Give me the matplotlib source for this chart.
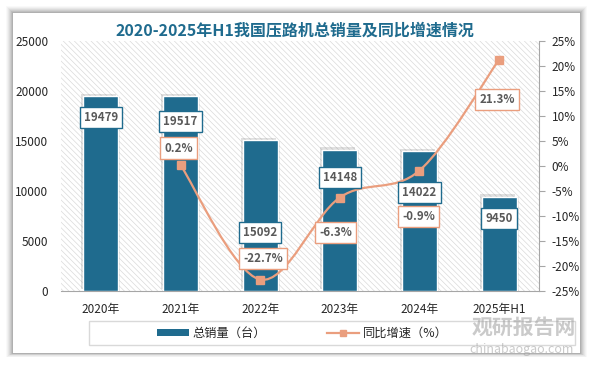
import matplotlib
matplotlib.use('Agg')
import matplotlib.pyplot as plt
import matplotlib.patheffects as pe
from matplotlib.path import Path
from matplotlib.patches import PathPatch, Rectangle
from matplotlib.lines import Line2D
from matplotlib.patches import Patch
import numpy as np

plt.rcParams['font.family'] = ['Noto Sans CJK SC', 'DejaVu Sans']
plt.rcParams['hatch.linewidth'] = 0.5
plt.rcParams['hatch.color'] = '#DADADA'

# data
years = ['2020年', '2021年', '2022年', '2023年', '2024年', '2025年H1']
sales = [19479, 19517, 15092, 14148, 14022, 9450]
growth = [None, 0.2, -22.7, -6.3, -0.9, 21.3]
growth_txt = ['', '0.2%', '-22.7%', '-6.3%', '-0.9%', '21.3%']

# label offsets (pixels) from the bar top / marker
bar_lab_off = [-21, -26, -92, -28, -42, -22]
pct_lab_off = [(0, 0), (-2, 17), (3, 21), (-4, -35), (-1, -46), (-2, -40)]

BLUE = '#1F6B8E'
SALMON = '#EA9E7E'
GREY_TXT = '#595959'

fig = plt.figure(figsize=(5.92, 3.66), dpi=100)
fig.patch.set_facecolor('white')

# card with soft shadow
W, H = 592, 366
for k, a in zip(range(7, 0, -1), [0.025, 0.03, 0.04, 0.05, 0.06, 0.07, 0.08]):
    fig.patches.append(Rectangle(((13 - k) / W, (13 - k * 0.6) / H),
                                 (567 + 2 * k) / W, (340 + k * 1.6) / H,
                                 transform=fig.transFigure, facecolor='black',
                                 edgecolor='none', alpha=a, zorder=-3))
fig.patches.append(Rectangle((13 / W, 13 / H), 567 / W, 340 / H,
                             transform=fig.transFigure, facecolor='white',
                             edgecolor='none', zorder=-2))

ax = fig.add_axes([61 / W, 1 - 291 / H, 478 / W, 250 / H])
ax2 = ax.twinx()

ax.patch.set_facecolor('white')
ax.patch.set_hatch('\\' * 6)
ax.patch.set_edgecolor('#DADADA')
ax.patch.set_linewidth(0)

x = np.arange(len(years))
bars = ax.bar(x, sales, width=0.44, color=BLUE, edgecolor='white', linewidth=1,
              zorder=3, label='总销量（台）')
for b in bars:
    b.set_path_effects([pe.SimplePatchShadow(offset=(-1.5, 1.5), shadow_rgbFace='#666666', alpha=0.2),
                        pe.SimplePatchShadow(offset=(1.5, -0.5), shadow_rgbFace='#666666', alpha=0.15),
                        pe.Normal()])

ax.set_xlim(-0.5, len(years) - 0.5)
ax.set_ylim(0, 25000)
ax.set_yticks(np.arange(0, 25001, 5000))
ax.set_xticks(x, years)
ax.tick_params(axis='x', length=0, pad=9, labelsize=8.5, colors='#262626')
ax.tick_params(axis='y', length=0, pad=9, labelsize=8.5, colors='#262626')
for s in ['left', 'top', 'right']:
    ax.spines[s].set_visible(False)
ax.spines['bottom'].set_color('#A6A6A6')

# growth line, smoothed as a cubic bezier through the points
gx = [i for i, g in enumerate(growth) if g is not None]
gy = [g for g in growth if g is not None]
pts = np.column_stack([gx, gy]).astype(float)
n = len(pts)
verts = [pts[0]]
codes = [Path.MOVETO]
for i in range(n - 1):
    p0 = pts[i - 1] if i > 0 else pts[i]
    p1 = pts[i]
    p2 = pts[i + 1]
    p3 = pts[i + 2] if i + 2 < n else pts[i + 1]
    verts += [p1 + (p2 - p0) / 6, p2 - (p3 - p1) / 6, p2]
    codes += [Path.CURVE4] * 3
ax2.add_patch(PathPatch(Path(verts, codes), facecolor='none', edgecolor=SALMON,
                        linewidth=1.6, zorder=4))
ax2.plot(gx, gy, linestyle='none', marker='s', markersize=6, color=SALMON, zorder=5)

ax2.set_ylim(-25, 25)
ax2.set_yticks(np.arange(-25, 26, 5), [f'{v}%' for v in range(-25, 26, 5)])
ax2.tick_params(axis='y', direction='out', length=4, width=0.8, color='#A6A6A6',
                pad=5, labelsize=8.5, labelcolor='#262626')
for s in ['left', 'top', 'bottom']:
    ax2.spines[s].set_visible(False)
ax2.spines['right'].set_color('#A6A6A6')

# data labels
for i, v in enumerate(sales):
    ax2.annotate(str(v), xy=(i, v), xycoords=ax.transData,
                 xytext=(0, bar_lab_off[i]), textcoords='offset pixels',
                 ha='center', va='center', fontsize=8.3, fontweight='bold', color=GREY_TXT,
                 bbox=dict(boxstyle='square,pad=0.35', facecolor='white', edgecolor=BLUE, linewidth=1),
                 zorder=6)
for i, g in enumerate(growth):
    if g is None:
        continue
    ax2.annotate(growth_txt[i], xy=(i, g), xytext=pct_lab_off[i], textcoords='offset pixels',
                 ha='center', va='center', fontsize=8.3, fontweight='bold', color=GREY_TXT,
                 bbox=dict(boxstyle='square,pad=0.35', facecolor='white', edgecolor=SALMON, linewidth=1),
                 zorder=6)

# title
fig.text(0.499, 1 - 31 / H, '2020-2025年H1我国压路机总销量及同比增速情况', ha='center', va='center',
         fontsize=11.5, fontweight='bold', color=BLUE)

# legend
fig.patches.append(Rectangle((89 / W, 1 - 345 / H), 486 / W, 24 / H, transform=fig.transFigure,
                             facecolor='white', edgecolor='#D9D9D9', linewidth=1, zorder=1))
handles = [Patch(facecolor=BLUE, edgecolor='none'),
           Line2D([0], [0], color=SALMON, linewidth=1.6, marker='s', markersize=5)]
leg = fig.legend(handles, ['总销量（台）', '同比增速（%）'], loc='center left',
                 bbox_to_anchor=(146 / W, 1 - 333 / H), ncol=2, frameon=False,
                 fontsize=8.8, handlelength=2.6, handleheight=0.5, columnspacing=5.0,
                 handletextpad=0.3)
for t in leg.get_texts():
    t.set_color('#262626')

# watermark
fig.text(524 / W, 1 - 327 / H, '观研报告网', ha='center', va='center', fontsize=15,
         fontweight='bold', color='#A0A0A0', alpha=0.55, zorder=10)
fig.text(522 / W, 1 - 350 / H, 'chinabaogao.com', ha='center', va='center', fontsize=9,
         color='#A0A0A0', alpha=0.55, zorder=10)

fig.savefig('out.png', dpi=100)
